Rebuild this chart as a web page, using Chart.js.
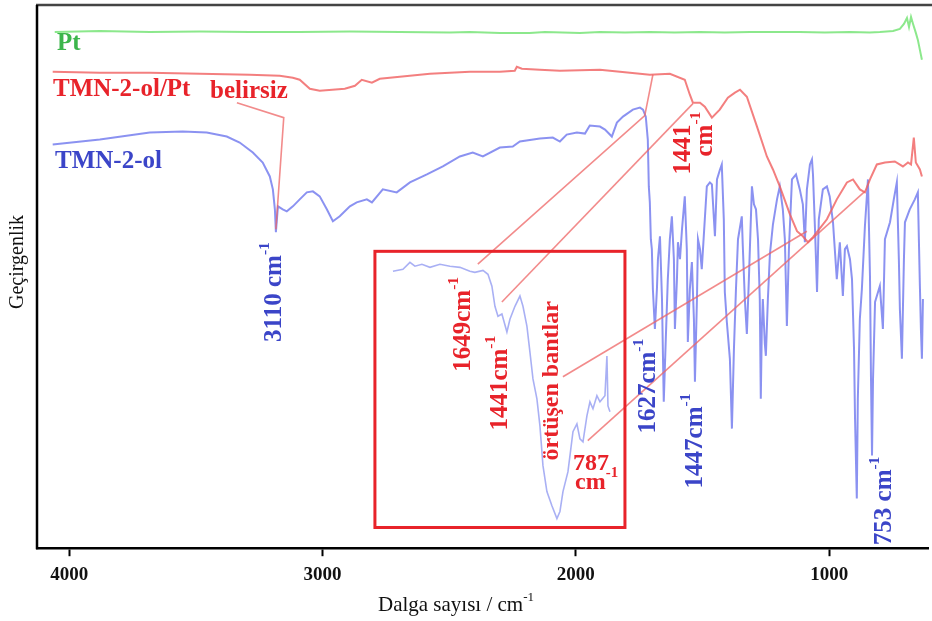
<!DOCTYPE html>
<html><head><meta charset="utf-8">
<script src="https://cdn.jsdelivr.net/npm/chart.js@4/dist/chart.umd.min.js"></script>
<style>html,body{margin:0;padding:0;background:#fff}</style>
</head><body>
<div style="width:932px;height:621px"><canvas id="c" width="932" height="621"></canvas></div>
<script>
// ---- data (wavenumber cm-1, transmittance a.u.) ----
const tickValues = [4000, 3000, 2000, 1000];

const ptWave = [4057,3879,3682,3484,3287,3090,2892,2695,2497,2418,2300,2182,2122,1984,1905,1806,1708,1610,1510,1412,1313,1215,1116,1017,918,840,800,748,721,705,693,685,677,669,658,650,642,634];
const ptT    = [103.6,103.8,103.6,103.7,103.6,103.6,103.7,103.6,103.5,103.6,103.4,103.4,103.6,103.4,103.6,103.5,103.6,103.5,103.6,103.5,103.6,103.6,103.6,103.5,103.6,103.5,103.6,103.8,104.2,105.2,106.4,104.6,106.6,105.2,103.4,102.0,100.0,98.0];

const tmnPtWave = [4065,3879,3682,3484,3287,3169,3117,3090,3050,3011,2912,2872,2845,2805,2774,2695,2576,2418,2300,2241,2233,2213,2142,2063,1905,1826,1708,1629,1570,1550,1538,1510,1491,1463,1432,1400,1372,1352,1325,1285,1246,1222,1195,1155,1127,1104,1084,1064,1009,970,930,906,879,859,839,812,780,741,709,689,677,666,658,642,634];
const tmnPtT    = [95.6,95.4,95.4,95.2,95.0,94.8,94.4,94.0,92.2,91.8,92.2,92.8,94.0,93.4,94.2,94.6,95.2,95.6,95.6,95.8,96.6,96.2,96.0,95.8,96.0,95.6,95.0,95.2,94.0,91.0,89.4,89.4,88.6,86.4,88.0,90.4,91.4,92.0,90.6,84.6,78.6,76.0,72.6,67.0,63.6,62.6,61.4,62.4,66.0,70.0,73.4,74.0,72.0,71.4,74.0,77.0,77.4,77.6,76.6,77.4,77.0,82.4,77.4,76.0,74.6];

const tmnWave = [4065,3879,3682,3552,3457,3378,3327,3275,3236,3208,3196,3188,3184,3176,3157,3141,3117,3090,3062,3038,3011,2983,2959,2932,2892,2865,2825,2805,2762,2707,2655,2588,2525,2458,2407,2367,2300,2249,2221,2142,2091,2063,2036,1996,1964,1945,1905,1885,1858,1838,1814,1775,1747,1735,1724,1716,1712,1708,1704,1700,1696,1688,1680,1676,1668,1660,1656,1653,1645,1637,1629,1621,1613,1609,1601,1597,1589,1581,1570,1562,1558,1550,1542,1534,1530,1522,1518,1510,1503,1491,1483,1471,1463,1451,1443,1431,1424,1416,1412,1404,1392,1384,1376,1368,1360,1345,1341,1333,1325,1317,1305,1297,1289,1281,1274,1270,1266,1262,1254,1250,1242,1234,1222,1206,1195,1183,1175,1167,1159,1147,1131,1116,1104,1096,1088,1076,1068,1064,1056,1048,1041,1025,1009,998,985,970,958,946,938,930,918,910,902,898,891,887,879,871,859,847,839,835,831,827,819,800,788,780,760,745,733,725,721,713,705,701,682,662,650,642,638,634,630];
const tmnT    = [81.0,82.0,83.4,83.6,83.4,82.6,81.4,79.4,77.4,74.6,72.0,68.0,63.4,68.6,68.0,67.6,68.6,70.0,71.4,71.6,70.6,68.0,65.6,66.6,68.6,69.4,70.0,69.4,72.0,71.4,73.4,75.0,76.6,78.6,79.4,78.6,80.4,80.6,81.6,82.2,82.4,81.6,83.0,83.4,83.2,84.8,84.6,84.0,82.6,85.4,86.6,88.0,88.4,88.0,86.6,82.0,72.6,69.4,62.0,60.0,52.0,44.0,52.0,58.0,62.6,50.0,38.0,29.4,42.0,54.0,62.0,66.6,58.0,44.0,54.0,61.4,58.0,64.0,70.6,60.0,41.4,52.0,57.4,46.0,33.4,50.0,62.0,60.0,56.0,66.0,72.6,73.4,73.0,62.6,74.0,76.0,77.0,66.0,51.4,45.4,38.0,24.0,40.0,52.0,62.0,66.6,60.6,50.0,43.0,54.0,72.6,69.0,68.0,62.0,50.0,30.0,44.0,50.0,41.0,38.6,50.0,59.0,65.0,70.0,72.6,68.0,62.0,44.6,60.0,74.0,75.0,72.0,69.0,61.4,72.0,77.0,78.0,75.0,64.0,51.4,66.0,72.0,72.6,70.6,65.4,54.0,61.4,50.6,60.0,60.6,58.0,54.0,40.0,26.0,10.0,30.0,46.0,52.0,64.6,74.0,54.6,34.0,18.6,34.0,49.4,52.6,44.0,62.0,65.4,70.0,73.4,58.0,48.0,38.0,58.0,65.4,68.0,70.0,71.4,52.6,44.0,38.0,50.0];

// inset (magnified TMN-2-ol/Pt region)
const insetWave = [2313,2237,2184,2146,2093,2032,1956,1880,1804,1728,1690,1629,1591,1561,1538,1515,1485,1447,1424,1386,1348,1325,1295,1272,1249,1219,1196,1173,1143,1105,1067,1044,1021,983,945,915,892,869,839,816,793,763,740,702,687,679,664];
const insetT    = [92.8,93.5,96.0,94.6,95.3,94.2,95.3,94.6,94.2,92.8,92.4,93.1,91.7,87.4,80.1,76.5,77.3,70.8,75.4,80.1,83.8,80.1,72.9,63.5,53.8,46.6,36.8,22.4,13.0,7.9,3.2,5.8,13.0,20.2,34.7,37.5,32.1,31.0,40.4,45.5,43.0,47.7,45.5,47.7,62.1,44.0,41.9];

// ---- annotations (layout, not data) ----
const SERIF = "'Liberation Serif','Times New Roman',serif";
const RED = '#e8232a', BLUE = '#3b45c8', GREEN = '#3cb54b';
const labels = [
  {parts:[['Pt']], x:4048, y:101.2, color:GREEN, rot:false, size:25},
  {parts:[['TMN-2-ol/Pt']], x:4064, y:92.0, color:RED, rot:false, size:25},
  {parts:[['belirsiz']], x:3444, y:91.6, color:RED, rot:false, size:25},
  {parts:[['TMN-2-ol']], x:4056, y:77.6, color:BLUE, rot:false, size:25},
  {parts:[['3110 cm'],['-1',1]], x:3188, y:41.4, color:BLUE, rot:true, size:25},
  {parts:[['1649cm'],['-1',1]], x:2442, y:35.4, color:RED, rot:true, size:25},
  {parts:[['1441cm'],['-1',1]], x:2296, y:23.6, color:RED, rot:true, size:25},
  {parts:[['örtüşen bantlar']], x:2094, y:17.6, color:RED, rot:true, size:24},
  {parts:[['787']], x:2011, y:17.0, color:RED, rot:false, size:24},
  {parts:[['cm'],['-1',1]], x:2003, y:13.2, color:RED, rot:false, size:24},
  {parts:[['1627cm'],['-1',1]], x:1715, y:23.0, color:BLUE, rot:true, size:25},
  {parts:[['1447cm'],['-1',1]], x:1526, y:12.0, color:BLUE, rot:true, size:25},
  {parts:[['753 cm'],['-1',1]], x:780, y:0.6, color:BLUE, rot:true, size:25},
  {parts:[['1441']], x:1573, y:75.0, color:RED, rot:true, size:25},
  {parts:[['cm'],['-1',1]], x:1490, y:78.6, color:RED, rot:true, size:25}
];
const leaders = [
  [[3338,89.4],[3153,86.4],[3184,64.0]],
  [[2387,57.0],[1728,86.8],[1696,95.0]],
  [[2292,49.4],[1538,89.2]],
  [[2051,34.4],[1088,63.6]],
  [[1953,21.6],[859,71.6]]
];

function drawRich(ctx, parts, size, color) {
  let x = 0;
  ctx.fillStyle = color;
  ctx.textBaseline = 'middle';
  ctx.textAlign = 'left';
  for (const [t, sup] of parts) {
    const fs = sup ? size * 0.62 : size;
    ctx.font = 'bold ' + fs + 'px ' + SERIF;
    ctx.fillText(t, x, sup ? -size * 0.38 : 0);
    x += ctx.measureText(t).width;
  }
}

const annot = {
  id: 'annot',
  afterDatasetsDraw(chart) {
    const {ctx, chartArea: a, scales} = chart;
    const X = scales.x, Y = scales.y;
    ctx.save();
    // leader lines
    ctx.strokeStyle = 'rgba(238,100,100,0.75)';
    ctx.lineWidth = 1.6;
    for (const l of leaders) {
      ctx.beginPath();
      l.forEach((p, i) => {
        const px = X.getPixelForValue(p[0]), py = Y.getPixelForValue(p[1]);
        i ? ctx.lineTo(px, py) : ctx.moveTo(px, py);
      });
      ctx.stroke();
    }
    // inset frame
    const x2 = scales.x2, y2 = scales.y2;
    const l = x2.getPixelForValue(2450), r = x2.getPixelForValue(550);
    const t = y2.getPixelForValue(100), b = y2.getPixelForValue(0);
    ctx.strokeStyle = '#e8232a';
    ctx.lineWidth = 3;
    ctx.strokeRect(l, t, r - l, b - t);
    // frame lines
    ctx.strokeStyle = '#444';
    ctx.lineWidth = 2.5;
    ctx.beginPath(); ctx.moveTo(a.left - 1, a.top); ctx.lineTo(932, a.top); ctx.stroke();
    ctx.strokeStyle = '#000';
    ctx.beginPath(); ctx.moveTo(a.left, a.top); ctx.lineTo(a.left, a.bottom + 1); ctx.stroke();
    // text labels
    for (const lb of labels) {
      ctx.save();
      ctx.translate(X.getPixelForValue(lb.x), Y.getPixelForValue(lb.y));
      if (lb.rot) ctx.rotate(-Math.PI / 2);
      drawRich(ctx, lb.parts, lb.size, lb.color);
      ctx.restore();
    }
    // axis titles
    ctx.save();
    ctx.translate(18, 262);
    ctx.rotate(-Math.PI / 2);
    ctx.fillStyle = '#111';
    ctx.font = '20px ' + SERIF;
    ctx.textAlign = 'center';
    ctx.textBaseline = 'middle';
    ctx.fillText('Geçirgenlik', 0, 0);
    ctx.restore();
    ctx.save();
    ctx.fillStyle = '#111';
    ctx.font = '21px ' + SERIF;
    const main = 'Dalga sayısı / cm';
    const w1 = ctx.measureText(main).width;
    ctx.font = '13px ' + SERIF;
    const w2 = ctx.measureText('-1').width;
    let sx = 456 - (w1 + w2) / 2;
    ctx.textBaseline = 'alphabetic';
    ctx.font = '21px ' + SERIF;
    ctx.fillText(main, sx, 611);
    ctx.font = '13px ' + SERIF;
    ctx.fillText('-1', sx + w1, 601);
    ctx.restore();
    ctx.restore();
  }
};

const pts = (xs, ys) => xs.map((x, i) => ({x: x, y: ys[i]}));
const lineDs = (label, xs, ys, color, w, xa, ya) => ({
  label, data: pts(xs, ys), borderColor: color, borderWidth: w,
  pointRadius: 0, tension: 0, fill: false, xAxisID: xa || 'x', yAxisID: ya || 'y'
});

new Chart(document.getElementById('c'), {
  type: 'line',
  data: {
    datasets: [
      lineDs('Pt', ptWave, ptT, 'rgba(120,228,120,0.85)', 2),
      lineDs('TMN-2-ol/Pt', tmnPtWave, tmnPtT, 'rgba(240,95,95,0.8)', 2),
      lineDs('TMN-2-ol', tmnWave, tmnT, 'rgba(90,100,235,0.7)', 2),
      lineDs('inset', insetWave, insetT, 'rgba(140,150,240,0.75)', 1.6, 'x2', 'y2')
    ]
  },
  options: {
    responsive: false, animation: false, devicePixelRatio: 1,
    layout: {padding: {left: 37, right: 4, top: 5, bottom: 28}},
    plugins: {legend: {display: false}, tooltip: {enabled: false}},
    scales: {
      x: {
        type: 'linear', reverse: true, min: 610, max: 4127, position: 'bottom',
        afterBuildTicks: s => { s.ticks = tickValues.map(v => ({value: v})); },
        ticks: {font: {family: SERIF, size: 19, weight: 'bold'}, color: '#111', padding: 7, maxRotation: 0,
                callback: v => String(v)},
        grid: {display: true, drawOnChartArea: false, drawTicks: true, tickLength: 8, tickWidth: 2, tickColor: '#000'},
        border: {display: true, color: '#000', width: 2.5}
      },
      y: {type: 'linear', display: false, min: 0, max: 109},
      x2: {type: 'linear', display: false, reverse: true, min: -1753, max: 5018},
      y2: {type: 'linear', display: false, min: -7.5, max: 189.2}
    }
  },
  plugins: [annot]
});
</script>
</body></html>
